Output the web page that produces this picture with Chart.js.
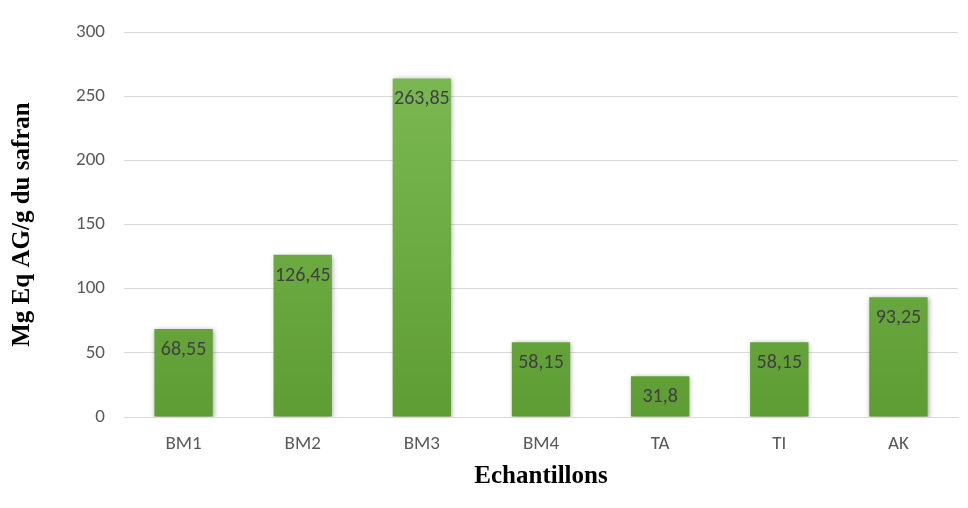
<!DOCTYPE html>
<html>
<head>
<meta charset="utf-8">
<script src="https://cdn.jsdelivr.net/npm/chart.js@4/dist/chart.umd.min.js"></script>
<style>
  html, body { margin: 0; padding: 0; background: #ffffff; }
  #wrap { width: 968px; height: 508px; }
</style>
</head>
<body>
<div id="wrap"><canvas id="chart" width="968" height="508"></canvas></div>
<script>
// Polyphenol content per saffron sample (mg GAE / g)
const categories = ['BM1', 'BM2', 'BM3', 'BM4', 'TA', 'TI', 'AK'];
const values = [68.55, 126.45, 263.85, 58.15, 31.8, 58.15, 93.25];
const valueLabels = ['68,55', '126,45', '263,85', '58,15', '31,8', '58,15', '93,25'];
const yTicks = [0, 50, 100, 150, 200, 250, 300];

const SANS = 'Carlito, "Liberation Sans", Arial, sans-serif';
const SERIF = '"Liberation Serif", "Times New Roman", serif';

// Vertical green gradient for the bars, built from the chart area
function barGradient(context) {
  const { chart } = context;
  const area = chart.chartArea;
  if (!area) return '#6aab41';
  const g = chart.ctx.createLinearGradient(0, area.top, 0, area.bottom);
  g.addColorStop(0, '#7ebb56');
  g.addColorStop(1, '#5e9d33');
  return g;
}

// Soft drop shadow under the bars
const barShadow = {
  id: 'barShadow',
  beforeDatasetDraw(chart) {
    const ctx = chart.ctx;
    ctx.save();
    ctx.shadowColor = 'rgba(0,0,0,0.35)';
    ctx.shadowBlur = 5;
    ctx.shadowOffsetX = 1;
    ctx.shadowOffsetY = 1;
  },
  afterDatasetDraw(chart) {
    chart.ctx.restore();
  }
};

// Value labels written inside the top of each bar
const valueText = {
  id: 'valueText',
  afterDatasetsDraw(chart) {
    const ctx = chart.ctx;
    const meta = chart.getDatasetMeta(0);
    ctx.save();
    ctx.font = '20px ' + SANS;
    ctx.fillStyle = '#404040';
    ctx.textAlign = 'center';
    ctx.textBaseline = 'middle';
    meta.data.forEach((bar, i) => {
      ctx.fillText(valueLabels[i], bar.x, bar.y + 21);
    });
    ctx.restore();
  }
};

new Chart(document.getElementById('chart'), {
  type: 'bar',
  data: {
    labels: categories,
    datasets: [{
      data: values,
      backgroundColor: barGradient,
      borderWidth: 0,
      barPercentage: 1,
      categoryPercentage: 0.49
    }]
  },
  options: {
    responsive: false,
    animation: false,
    layout: { padding: { top: 32, right: 10, left: 0, bottom: 0 } },
    plugins: {
      legend: { display: false },
      tooltip: { enabled: false }
    },
    scales: {
      x: {
        grid: { display: false },
        border: { display: true, color: '#d9d9d9', width: 1 },
        ticks: {
          color: '#595959',
          font: { family: SANS, size: 19 },
          padding: 8
        },
        title: {
          display: true,
          text: 'Echantillons',
          color: '#000000',
          font: { family: SERIF, size: 25, weight: 'bold' },
          padding: { top: 0, bottom: 16 }
        },
        afterFit(scale) { scale.height = 91; }
      },
      y: {
        min: 0,
        max: 300,
        afterBuildTicks(scale) {
          scale.ticks = yTicks.map(v => ({ value: v }));
        },
        grid: { color: '#d9d9d9', lineWidth: 1, drawTicks: false },
        border: { display: false },
        ticks: {
          color: '#595959',
          font: { family: SANS, size: 19 },
          padding: 19
        },
        title: {
          display: true,
          text: 'Mg Eq AG/g du safran',
          color: '#000000',
          font: { family: SERIF, size: 25, weight: 'bold' },
          padding: { top: 8, bottom: 0 }
        },
        afterFit(scale) { scale.width = 124; }
      }
    }
  },
  plugins: [barShadow, valueText]
});
</script>
</body>
</html>
